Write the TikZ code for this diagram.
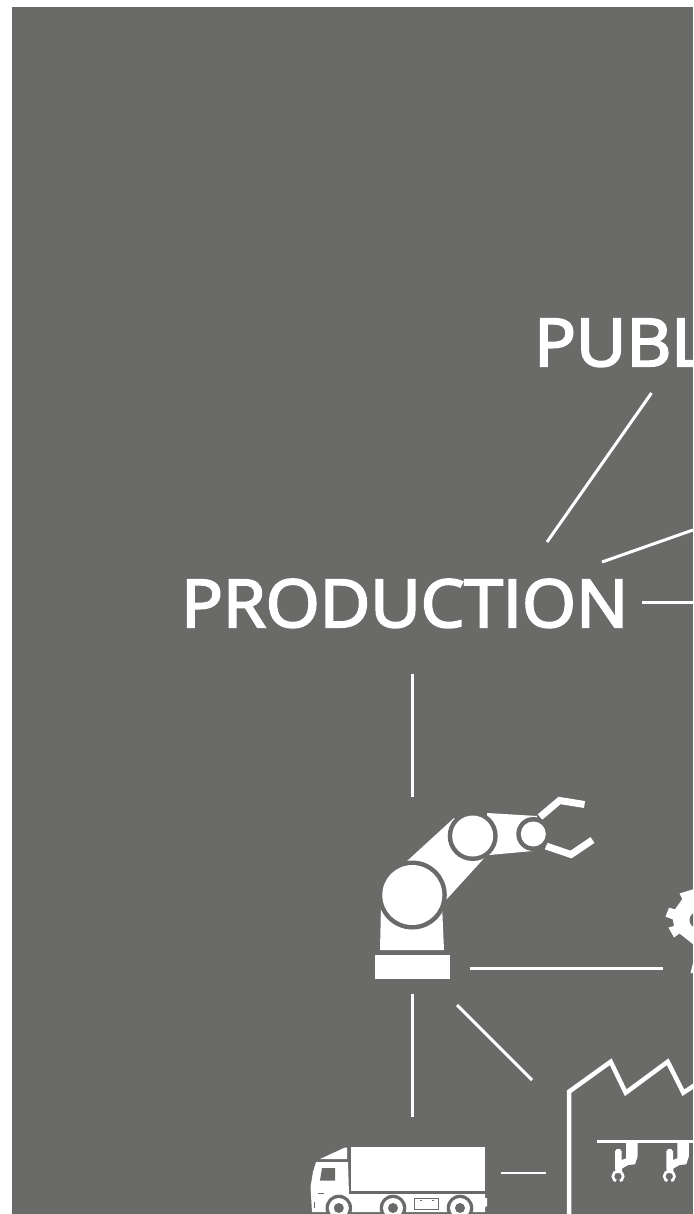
\documentclass[tikz,border=0pt]{standalone}
\usepackage{fontspec}
\setmainfont{Open Sans}
\newfontfamily\headfont{Open Sans}[FakeBold=3.2]
\definecolor{panel}{HTML}{6A6A68}
\tikzset{
  heading/.style={text=white,inner sep=0pt,anchor=base west,xscale=1.05,font=\fontsize{66}{66}\selectfont\headfont},
  link/.style={draw=white,line width=3pt},
  solid white/.style={fill=white,draw=none},
  cutout/.style={fill=panel,draw=none},
  claw/.style={draw=white,line width=7pt,miter limit=10},
  wall/.style={draw=white,line width=4.5pt,miter limit=10},
}
\begin{document}
\begin{tikzpicture}[x=1pt,y=-1pt]
\useasboundingbox (0,0) rectangle (693,1214);
\clip (0,0) rectangle (693,1214);
\fill[white] (0,0) rectangle (693,1214);
\fill[panel] (12,7) rectangle (693,1214);

% headings
\node[heading] (publ) at (534,366) {PUBL};
\node[heading] (prod) at (181,627) {PRODUCTION};

% connector ends
\coordinate (a1) at (651.5,393); \coordinate (a2) at (547,542);
\coordinate (b1) at (602,562); \coordinate (b2) at (693,530);
\coordinate (c1) at (642,602.5); \coordinate (c2) at (693,602.5);
\coordinate (d1) at (412.5,674); \coordinate (d2) at (412.5,797);
\coordinate (e1) at (470,968.5); \coordinate (e2) at (663,968.5);
\coordinate (f1) at (412.5,994); \coordinate (f2) at (412.5,1117);
\coordinate (g1) at (457,1005); \coordinate (g2) at (532,1080);
\coordinate (h1) at (501,1173); \coordinate (h2) at (546,1173);
\foreach \p/\q in {a1/a2,b1/b2,c1/c2,d1/d2,e1/e2,f1/f2,g1/g2}
  \draw[link] (\p) -- (\q);
\draw[link,line width=2pt] (h1) -- (h2);

% robot
\fill[solid white] (375,955) rectangle (450,979);
\fill[solid white] (381,905) -- (380,950) -- (444,950) -- (442,905) -- cycle;
\fill[solid white] (454,818) -- (406,862) -- (446,900) -- (487,855) -- cycle;
\fill[solid white] (487,813) -- (537,816) -- (533,851) -- (489,855) -- cycle;
\draw[claw] (540,817) -- (559.5,800.5) -- (584.5,804.5);
\draw[claw] (546,846) -- (571,854.5) -- (592.5,840);
\fill[cutout] (412.3,895) circle (34.5);
\fill[solid white] (412.3,895) circle (30);
\fill[cutout] (472.7,836) circle (25);
\fill[solid white] (472.7,836) circle (20.5);
\fill[cutout] (533.3,834) circle (17);
\fill[solid white] (533.3,834) circle (12.5);

% gear
\fill[solid white] (694,889) -- (679.5,893.5) -- (682.3,899) -- (675,909.3) -- (669,907.7)
  -- (665.5,916.7) -- (672.7,919.3) -- (674,926) -- (668.5,927.5) -- (674,937.5) -- (679.5,933.5)
  -- (694,945) -- cycle;
\fill[cutout] (697.5,920) circle (8);
\fill[solid white] (693,963) -- (690.5,973) -- (693,973) -- cycle;

% truck
\fill[solid white] (351,1147.3) rectangle (485,1191);
\fill[solid white] (320,1159) -- (345,1147.5) -- (347,1147.5) -- (347,1159) -- cycle;
\fill[solid white] (316,1162) -- (348,1162) -- (349,1194) -- (485,1194) -- (485,1198)
  -- (487,1198) -- (487,1206) -- (485,1207) -- (485,1212) -- (312,1212) -- (310.5,1187)
  -- (313,1172) -- cycle;
\fill[cutout] (322,1168) -- (335,1168) -- (335,1180.5) -- (320,1180.5) -- cycle;
\fill[cutout] (318,1192.5) rectangle (323.5,1193.7);
\fill[cutout] (313.5,1202) rectangle (314.5,1208);
\foreach \x in {338.8,393,460}{
  \fill[cutout] (\x,1208) circle (13.3);
  \fill[solid white] (\x,1208) circle (10);
  \fill[cutout] (\x,1208) circle (5);
}
\draw[panel,line width=.7pt] (414.7,1198) rectangle (438.7,1209);
\fill[cutout] (420,1199.5) rectangle (421.5,1200.5);
\fill[cutout] (432,1199.5) rectangle (433.5,1200.5);

% factory
\draw[wall] (569,1216) -- (569,1091.7) -- (610.7,1061.7) -- (625.7,1092.7) -- (667.7,1061.7)
  -- (683.3,1092.7) -- (695,1085);
\draw[draw=white,line width=3.3pt] (597,1141.7) -- (693,1141.7);
\foreach \dx in {0,51.3}{
\begin{scope}[xshift=\dx pt]
  \fill[solid white] (626,1143) -- (637.5,1143) -- (637.5,1156.7) -- (635,1164.3) -- (628.3,1165)
    -- (622.3,1168.3) -- (621.7,1173) -- (615.8,1173) -- (615,1168) -- (615,1151.5) -- (616.7,1149)
    -- (620,1149) -- (621.7,1151.5) -- (621.7,1160) -- (626,1158.3) -- cycle;
  \draw[draw=white,line width=2.6pt] (618,1176.3) circle (5.2);
  \fill[cutout] (618,1177) -- (615,1183.5) -- (621,1183.5) -- cycle;
\end{scope}}
\end{tikzpicture}
\end{document}
